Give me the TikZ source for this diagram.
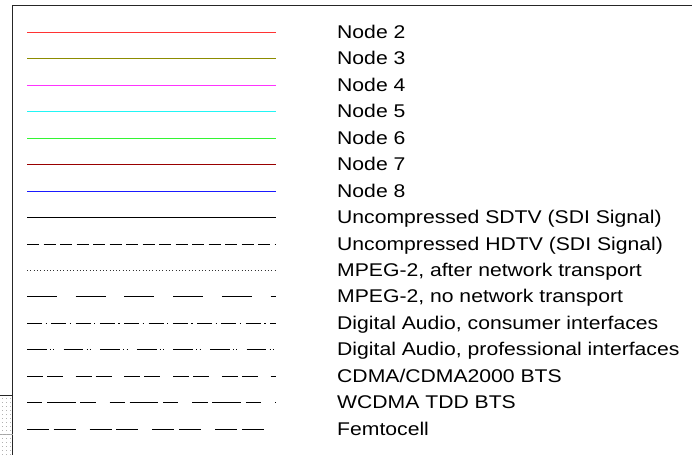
\documentclass[tikz,border=0pt]{standalone}
\usepackage{fontspec}
\setmainfont[FakeStretch=1.15]{Liberation Sans}

\definecolor{nodered}{HTML}{FF3333}
\definecolor{nodeolive}{HTML}{8C8C00}
\definecolor{nodemagenta}{HTML}{FF33FF}
\definecolor{nodecyan}{HTML}{22F5F5}
\definecolor{nodegreen}{HTML}{33F533}
\definecolor{nodedarkred}{HTML}{990000}
\definecolor{nodeblue}{HTML}{1A1AFF}

\begin{document}
\begin{tikzpicture}[
    x=1pt, y=-1pt,
    frame/.style={draw=black!85, line width=1.3pt},
    key/.style={line width=1.6pt},
    nodetwo/.style={key, nodered},
    nodethree/.style={key, nodeolive},
    nodefour/.style={key, nodemagenta},
    nodefive/.style={key, nodecyan},
    nodesix/.style={key, nodegreen},
    nodeseven/.style={key, nodedarkred},
    nodeeight/.style={key, nodeblue},
    sdtv/.style={key, black},
    hdtv/.style={key, black, dash pattern=on 12pt off 4.5pt},
    mpegnet/.style={key, black!80, line width=1pt, dash pattern=on 1pt off 2.3pt},
    mpegraw/.style={key, black, dash pattern=on 30pt off 18.7pt},
    audiocons/.style={key, black, dash pattern=on 15pt off 3.5pt on 1.3pt off 4.5pt},
    audiopro/.style={key, black, dash pattern=on 19.7pt off 3.3pt on 1pt off 2.3pt on 1pt off 9.3pt},
    cdmabts/.style={key, black, dash pattern=on 16pt off 4pt on 16pt off 12.7pt},
    wcdmabts/.style={key, black, dash pattern=on 15.3pt off 4.7pt on 28.7pt off 4.7pt on 15.3pt off 14pt},
    femto/.style={key, black, dash pattern=on 22pt off 4.7pt on 22pt off 14pt},
    label/.style={anchor=base west, inner sep=0pt, font=\fontsize{18.4}{22}\selectfont}
]
\useasboundingbox (0,0) rectangle (692,455);

% legend frame, open to the right and below
\coordinate (frametl) at (12.5,5.5);
\draw[frame] (692,5.5) -- (frametl) -- (12.5,455);

% bit of the neighbouring sheet
\draw[black!85, line width=1pt] (0,395.5) -- (12.5,395.5);
\draw[black!35, line width=1pt] (0,434.5) -- (12.5,434.5);
\foreach \gx in {2,6,10} {
    \draw[black!30, line width=0.8pt, dash pattern=on 1pt off 3pt] (\gx,398) -- (\gx,455);
}

% one row per entry: style / text (rows snapped to whole units)
\foreach [count=\i from 0] \sty/\txt in {
    nodetwo/Node 2,
    nodethree/Node 3,
    nodefour/Node 4,
    nodefive/Node 5,
    nodesix/Node 6,
    nodeseven/Node 7,
    nodeeight/Node 8,
    sdtv/Uncompressed SDTV (SDI Signal),
    hdtv/Uncompressed HDTV (SDI Signal),
    mpegnet/{MPEG-2, after network transport},
    mpegraw/{MPEG-2, no network transport},
    audiocons/{Digital Audio, consumer interfaces},
    audiopro/{Digital Audio, professional interfaces},
    cdmabts/{CDMA/CDMA2000 BTS},
    wcdmabts/WCDMA TDD BTS,
    femto/Femtocell} {
    \pgfmathsetmacro{\rowy}{round(32+26.45*\i)+0.5}
    \coordinate (l\i) at (27,\rowy);
    \coordinate (r\i) at (275.5,\rowy);
    \draw[\sty] (l\i) -- (r\i);
    \node[label] (t\i) at (337,\rowy+6.2) {\txt};
}

\end{tikzpicture}
\end{document}
